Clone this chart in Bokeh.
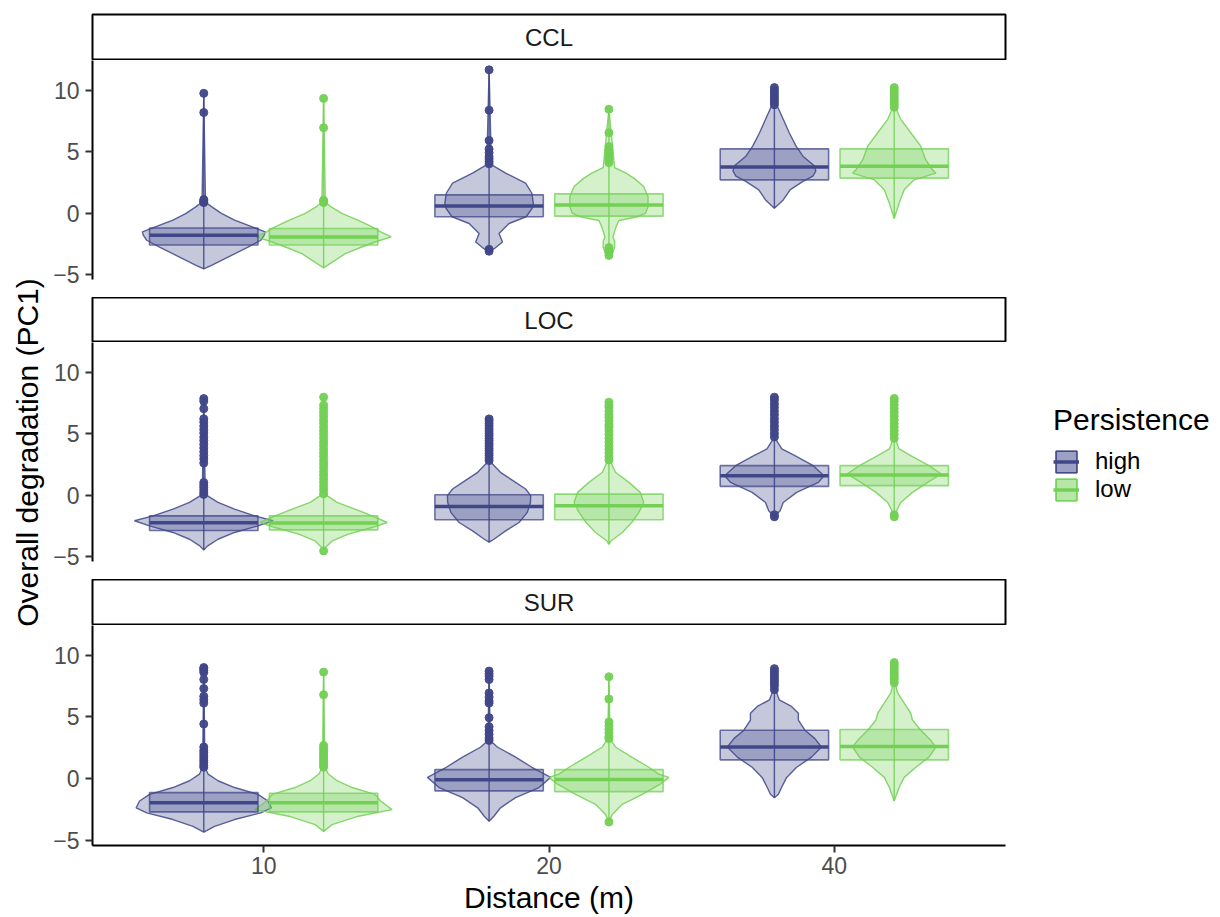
from bokeh.plotting import figure
from bokeh.layouts import column, row
from bokeh.models import Range1d, FixedTicker, Legend, LegendItem
from bokeh.core.properties import value
from bokeh.embed import file_html
from bokeh.resources import INLINE
import math

facets = ["CCL", "LOC", "SUR"]
distances = ["10", "20", "40"]
persistence = ["high", "low"]
y_ticks = [-5, 0, 5, 10]
y_title = "Overall degradation (PC1)"
x_title = "Distance (m)"
legend_title = "Persistence"

# box statistics, order: 10-high, 10-low, 20-high, 20-low, 40-high, 40-low
ccl_q1 = [-2.60, -2.60, -0.30, -0.25, 2.70, 2.84]
ccl_med = [-1.80, -1.94, 0.57, 0.66, 3.74, 3.80]
ccl_q3 = [-1.22, -1.26, 1.48, 1.56, 5.22, 5.22]
loc_q1 = [-2.88, -2.83, -2.01, -2.01, 0.71, 0.77]
loc_med = [-2.25, -2.28, -0.92, -0.87, 1.57, 1.63]
loc_q3 = [-1.69, -1.69, 0.03, 0.08, 2.39, 2.39]
sur_q1 = [-2.68, -2.68, -0.98, -1.04, 1.53, 1.53]
sur_med = [-1.94, -1.94, -0.08, -0.05, 2.57, 2.62]
sur_q3 = [-1.12, -1.17, 0.74, 0.74, 3.93, 3.98]

# violin outlines: y levels and half widths (x units), outliers
ccl_10_high_y = [-4.54, -4.26, -3.58, -2.76, -2.21, -1.80, -1.53, -1.12, -0.57, -0.03, 0.52, 0.90, 9.73]
ccl_10_high_w = [0, 0.027, 0.085, 0.155, 0.200, 0.212, 0.215, 0.170, 0.108, 0.062, 0.027, 0.006, 0]
ccl_10_high_out = [9.73, 8.17, 1.10, 1.00, 0.90, 0.85]
ccl_10_low_y = [-4.45, -3.85, -3.30, -2.76, -2.35, -1.94, -1.53, -1.12, -0.57, -0.03, 0.52, 0.90, 9.32]
ccl_10_low_w = [0, 0.040, 0.076, 0.134, 0.180, 0.237, 0.200, 0.170, 0.120, 0.064, 0.025, 0.006, 0]
ccl_10_low_out = [9.32, 6.94, 1.05, 0.95, 0.85]
ccl_20_high_y = [-3.10, -2.90, -2.35, -1.67, -0.85, -0.30, 0.52, 0.79, 1.61, 2.43, 3.25, 3.93, 11.64]
ccl_20_high_w = [0, 0.018, 0.047, 0.035, 0.070, 0.130, 0.155, 0.155, 0.150, 0.128, 0.058, 0.008, 0]
ccl_20_high_out = [11.64, 8.36, 5.90, 5.20, 4.90, 4.60, 4.40, 4.20, 4.00, -2.95, -3.10]
ccl_20_low_y = [-3.58, -3.30, -2.76, -2.30, -1.94, -1.12, -0.60, -0.30, -0.03, 0.52, 1.34, 2.16, 2.80, 3.25, 3.70, 8.44]
ccl_20_low_w = [0, 0.012, 0.020, 0.020, 0.014, 0.025, 0.035, 0.100, 0.128, 0.137, 0.137, 0.122, 0.090, 0.060, 0.020, 0]
ccl_20_low_out = [8.44, 6.53, 5.40, 5.10, 4.80, 4.50, 4.30, 4.10, -2.80, -3.00, -3.20, -3.44]
ccl_40_high_y = [0.39, 1.07, 1.89, 2.57, 3.00, 3.40, 3.80, 4.62, 5.44, 6.53, 7.62, 8.70, 10.20]
ccl_40_high_w = [0, 0.031, 0.055, 0.100, 0.135, 0.145, 0.142, 0.100, 0.076, 0.052, 0.031, 0.010, 0]
ccl_40_high_out = [10.20, 10.00, 9.80, 9.60, 9.40, 9.20, 9.00, 8.80]
ccl_40_low_y = [-0.44, 0.79, 1.89, 2.70, 3.25, 3.52, 4.34, 5.44, 6.53, 7.62, 8.40, 10.20]
ccl_40_low_w = [0, 0.017, 0.035, 0.070, 0.146, 0.134, 0.110, 0.093, 0.058, 0.023, 0.008, 0]
ccl_40_low_out = [10.20, 10.00, 9.80, 9.60, 9.40, 9.20, 9.00, 8.80, 8.60]

loc_10_high_y = [-4.46, -4.13, -3.59, -3.04, -2.50, -2.09, -1.69, -1.14, -0.60, -0.05, 0.30, 7.84]
loc_10_high_w = [0, 0.014, 0.050, 0.108, 0.190, 0.243, 0.178, 0.108, 0.050, 0.012, 0.005, 0]
loc_10_high_out = [7.84, 7.62, 7.02, 6.20, 5.93, 5.61, 5.32, 5.04, 4.71, 4.43, 4.12, 3.83, 3.52, 3.21, 2.93, 2.60,
                   1.02, 0.81, 0.63, 0.42, 0.21, 0.05]
loc_10_low_y = [-4.40, -3.73, -3.18, -2.64, -2.23, -1.69, -1.14, -0.60, -0.05, 0.30, 7.96]
loc_10_low_w = [0, 0.030, 0.087, 0.170, 0.223, 0.170, 0.110, 0.047, 0.012, 0.004, 0]
loc_10_low_out = [7.96, 7.31, 7.02, 6.72, 6.43, 6.11, 5.83, 5.52, 5.21, 4.93, 4.62, 4.31, 4.02, 3.71, 3.42, 3.13,
                  2.81, 2.52, 2.23, 1.91, 1.62, 1.31, 1.02, 0.71, 0.42, 0.10, -4.54]
loc_20_high_y = [-3.83, -3.59, -2.91, -2.23, -1.41, -0.60, -0.05, 0.49, 1.03, 1.85, 2.66, 6.19]
loc_20_high_w = [0, 0.017, 0.058, 0.105, 0.134, 0.145, 0.146, 0.128, 0.093, 0.040, 0.006, 0]
loc_20_high_out = [6.19, 6.02, 5.81, 5.62, 5.41, 5.22, 5.01, 4.82, 4.61, 4.42, 4.21, 4.02, 3.81, 3.62, 3.41, 3.22,
                   3.01, 2.80]
loc_20_low_y = [-4.00, -3.73, -3.04, -2.23, -1.41, -0.60, 0.22, 1.03, 1.85, 2.80, 7.55]
loc_20_low_w = [0, 0.007, 0.047, 0.080, 0.105, 0.122, 0.110, 0.070, 0.023, 0.004, 0]
loc_20_low_out = [7.55, 7.31, 7.12, 6.81, 6.52, 6.31, 6.02, 5.71, 5.52, 5.21, 4.92, 4.61, 4.32, 4.01, 3.72, 3.41,
                  3.12, 2.85]
loc_40_high_y = [-1.77, -1.28, -0.60, 0.22, 1.03, 1.57, 2.39, 3.20, 3.75, 4.56, 7.96]
loc_40_high_w = [0, 0.020, 0.031, 0.078, 0.154, 0.174, 0.136, 0.072, 0.026, 0.004, 0]
loc_40_high_out = [7.96, 7.72, 7.41, 7.12, 6.81, 6.52, 6.21, 5.92, 5.61, 5.32, 5.01, 4.72, -1.77, -1.60]
loc_40_low_y = [-1.77, -1.10, -0.60, 0.22, 1.03, 1.71, 2.39, 3.20, 3.75, 4.56, 7.85]
loc_40_low_w = [0, 0.012, 0.023, 0.064, 0.117, 0.165, 0.122, 0.058, 0.017, 0.004, 0]
loc_40_low_out = [7.85, 7.61, 7.32, 7.01, 6.72, 6.41, 6.12, 5.81, 5.52, 5.21, 4.92, 4.61, -1.60, -1.77]

sur_10_high_y = [-4.32, -3.85, -3.30, -2.76, -2.35, -1.80, -1.26, -0.71, -0.16, 0.38, 0.93, 9.12]
sur_10_high_w = [0, 0.038, 0.108, 0.200, 0.237, 0.225, 0.190, 0.108, 0.050, 0.015, 0.004, 0]
sur_10_high_out = [9.00, 8.90, 8.75, 8.60, 8.03, 7.30, 6.67, 6.40, 6.12, 4.43, 2.57, 2.30, 2.10, 1.90, 1.70,
                   1.50, 1.30, 1.10, 0.93]
sur_10_low_y = [-4.26, -3.71, -3.03, -2.50, -1.80, -1.26, -0.71, -0.16, 0.38, 0.93, 8.63]
sur_10_low_w = [0, 0.030, 0.122, 0.240, 0.200, 0.180, 0.100, 0.047, 0.017, 0.004, 0]
sur_10_low_out = [8.63, 6.80, 2.70, 2.50, 2.30, 2.10, 1.90, 1.70, 1.50, 1.30, 1.10, 0.93]
sur_20_high_y = [-3.44, -3.03, -2.35, -1.53, -0.71, 0.11, 0.93, 1.75, 2.57, 3.10, 8.71]
sur_20_high_w = [0, 0.017, 0.040, 0.093, 0.175, 0.216, 0.150, 0.093, 0.029, 0.004, 0]
sur_20_high_out = [8.71, 8.50, 8.30, 8.03, 6.94, 6.60, 6.30, 6.12, 4.94, 4.20, 3.90, 3.60, 3.30, 3.10]
sur_20_low_y = [-3.44, -2.90, -2.07, -1.26, -0.44, 0.11, 0.38, 0.93, 1.75, 2.57, 3.25, 8.25]
sur_20_low_w = [0, 0.012, 0.047, 0.117, 0.180, 0.210, 0.175, 0.140, 0.080, 0.023, 0.004, 0]
sur_20_low_out = [8.25, 6.45, 4.60, 4.30, 4.00, 3.70, 3.40, 3.25, -3.50]
sur_40_high_y = [-1.53, -1.26, -0.71, 0.11, 0.93, 1.75, 2.57, 3.25, 3.93, 4.75, 5.30, 5.85, 6.39, 7.21, 8.91]
sur_40_high_w = [0, 0.014, 0.025, 0.043, 0.078, 0.130, 0.165, 0.142, 0.107, 0.084, 0.084, 0.060, 0.017, 0.004, 0]
sur_40_high_out = [8.91, 8.70, 8.50, 8.30, 8.10, 7.90, 7.70, 7.50, 7.21]
sur_40_low_y = [-1.80, -0.71, 0.11, 0.93, 1.75, 2.57, 3.11, 3.93, 4.75, 5.30, 6.12, 6.94, 7.76, 9.40]
sur_40_low_w = [0, 0.017, 0.035, 0.076, 0.122, 0.146, 0.128, 0.093, 0.064, 0.058, 0.035, 0.012, 0.003, 0]
sur_40_low_out = [9.40, 9.20, 9.00, 8.80, 8.60, 8.40, 8.20, 8.00, 7.76]

# ---------------------------------------------------------------- styling
COL = {"high": "#404788", "low": "#73D055"}
DODGE = {"high": -0.21, "low": 0.21}
BOX_HALF = 0.19
FONT = "Liberation Sans"
LAB_W = 46          # width of the strip holding the shared y title
L, W, R = 46, 913, 215
TOTAL_H = 917
G = globals()


def group_stats(facet):
    k = facet.lower()
    return G[k + "_q1"], G[k + "_med"], G[k + "_q3"]


def strip(label, top_border, frame_h):
    s = figure(frame_width=W, frame_height=frame_h, x_range=Range1d(0, 1), y_range=Range1d(0, 1),
               x_axis_type=None, y_axis_type=None, toolbar_location=None, output_backend="svg",
               min_border_left=L, min_border_right=R, min_border_top=top_border, min_border_bottom=0)
    s.grid.visible = False
    s.outline_line_color = "black"
    s.outline_line_width = 2
    s.text(x=[0.5], y=[0.5], text=[label], text_align="center", text_baseline="middle",
           text_font_size="24px", text_color="#1a1a1a", text_font=value(FONT))
    return s


def panel(facet, frame_h, bottom_border, show_x=False, with_legend=False):
    p = figure(frame_width=W, frame_height=frame_h, x_range=Range1d(0.4, 3.6), y_range=Range1d(-5.4, 12.4),
               x_axis_type="linear" if show_x else None, toolbar_location=None, output_backend="svg",
               min_border_left=L, min_border_right=R, min_border_top=0, min_border_bottom=bottom_border)
    p.grid.visible = False
    p.outline_line_color = None
    q1, med, q3 = group_stats(facet)
    k = facet.lower()

    v_r, b_r, m_r = {}, {}, {}
    # violins
    for pers in persistence:
        xs, ys = [], []
        for j, d in enumerate(distances):
            cx = j + 1 + DODGE[pers]
            vy = G[f"{k}_{d}_{pers}_y"]
            vw = G[f"{k}_{d}_{pers}_w"]
            xs.append([cx - w for w in vw] + [cx + w for w in reversed(vw)])
            ys.append(list(vy) + list(reversed(vy)))
        v_r[pers] = p.patches(xs, ys, fill_color=COL[pers], fill_alpha=0.3,
                              line_color=COL[pers], line_alpha=0.85, line_width=1.4)
    # boxes + whisker lines + medians
    for pers in persistence:
        left, right, bot, top, cxs, lo, hi, md = [], [], [], [], [], [], [], []
        for j, d in enumerate(distances):
            i = 2 * j + persistence.index(pers)
            cx = j + 1 + DODGE[pers]
            vy = G[f"{k}_{d}_{pers}_y"]
            left.append(cx - BOX_HALF)
            right.append(cx + BOX_HALF)
            bot.append(q1[i])
            top.append(q3[i])
            cxs.append(cx)
            lo.append(vy[0])
            hi.append(vy[-1])
            md.append(med[i])
        p.segment(x0=cxs, y0=lo, x1=cxs, y1=hi, line_color=COL[pers], line_width=1.4, line_alpha=0.9)
        b_r[pers] = p.quad(left=left, right=right, bottom=bot, top=top, fill_color=COL[pers], fill_alpha=0.3,
                           line_color=COL[pers], line_alpha=0.75, line_width=1.6)
        m_r[pers] = p.segment(x0=left, y0=md, x1=right, y1=md, line_color=COL[pers], line_width=3.5)
    # outliers
    for pers in persistence:
        ox, oy = [], []
        for j, d in enumerate(distances):
            cx = j + 1 + DODGE[pers]
            for v in G[f"{k}_{d}_{pers}_out"]:
                ox.append(cx)
                oy.append(v)
        p.scatter(ox, oy, size=8, fill_color=COL[pers], line_color=COL[pers], alpha=0.95)

    ax = p.yaxis[0]
    ax.ticker = FixedTicker(ticks=y_ticks)
    for a in p.axis:
        a.axis_line_color = "black"
        a.axis_line_width = 2
        a.major_tick_line_color = "#333333"
        a.major_tick_line_width = 2
        a.major_tick_out = 7
        a.major_tick_in = 0
        a.minor_tick_line_color = None
        a.major_label_text_font = FONT
        a.major_label_text_font_size = "23px"
        a.major_label_text_color = "#4d4d4d"
        a.major_label_standoff = 6
        a.axis_label_text_font = FONT
        a.axis_label_text_font_size = "30px"
        a.axis_label_text_font_style = "normal"
        a.axis_label_text_color = "black"
    if show_x:
        xa = p.xaxis[0]
        xa.ticker = FixedTicker(ticks=[1, 2, 3])
        xa.major_label_overrides = {j + 1: d for j, d in enumerate(distances)}
        xa.axis_label = x_title
        xa.axis_label_standoff = 4
        xa.major_label_standoff = 4
    if with_legend:
        items = [LegendItem(label=pers, renderers=[v_r[pers], b_r[pers], m_r[pers]]) for pers in persistence]
        lg = Legend(items=items, title=legend_title, location=(48, 58))
        lg.title_text_font = FONT
        lg.title_text_font_size = "30px"
        lg.title_text_font_style = "normal"
        lg.title_text_color = "black"
        lg.title_standoff = 10
        lg.label_text_font = FONT
        lg.label_text_font_size = "24px"
        lg.label_text_color = "black"
        lg.glyph_width = 26
        lg.glyph_height = 27
        lg.label_height = 27
        lg.label_standoff = 16
        lg.spacing = 0
        lg.padding = 0
        lg.margin = 0
        lg.border_line_color = None
        lg.background_fill_alpha = 0
        p.add_layout(lg, "right")
    return p


# shared y-axis title in its own narrow figure spanning the full height
ylab = figure(width=LAB_W, height=TOTAL_H, x_range=Range1d(0, LAB_W), y_range=Range1d(0, TOTAL_H),
              x_axis_type=None, y_axis_type=None, toolbar_location=None, output_backend="svg",
              min_border=0)
ylab.grid.visible = False
ylab.outline_line_color = None
ylab.text(x=[27], y=[TOTAL_H - 452], text=[y_title], angle=math.pi / 2, text_align="center",
          text_baseline="middle", text_font_size="30px", text_color="black", text_font=value(FONT))

s1 = strip(facets[0], 14, 46)
p1 = panel(facets[0], 219, 18)
s2 = strip(facets[1], 0, 45)
p2 = panel(facets[1], 219, 18, with_legend=True)
s3 = strip(facets[2], 0, 46)
p3 = panel(facets[2], 220, 72, show_x=True)

layout = row(ylab, column(s1, p1, s2, p2, s3, p3, spacing=0), spacing=0)
open("out.html", "w").write(file_html(layout, INLINE))
